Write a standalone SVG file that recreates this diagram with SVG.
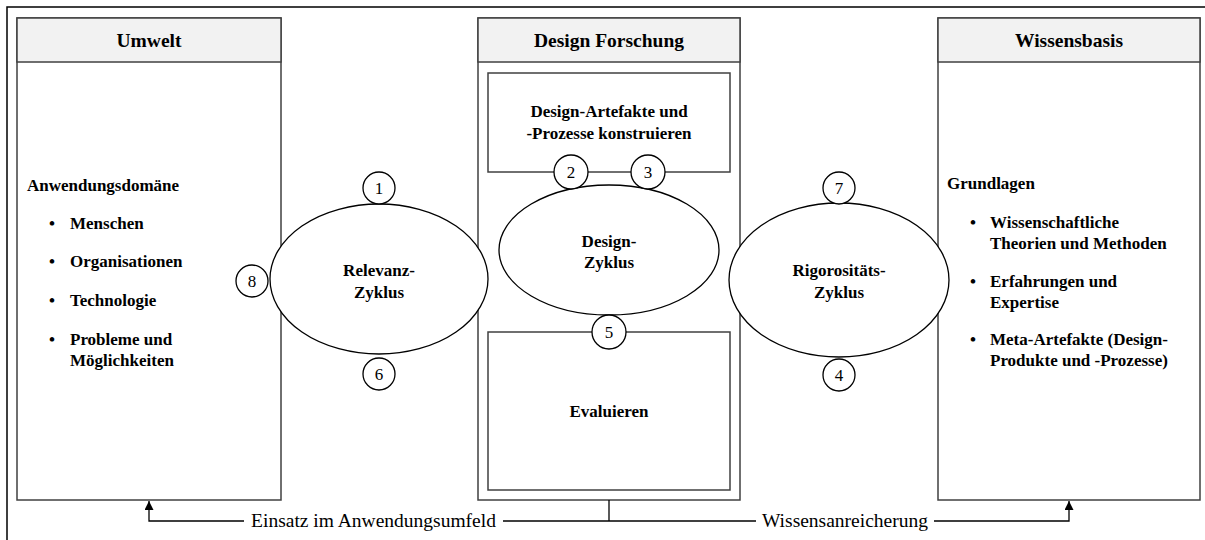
<svg xmlns="http://www.w3.org/2000/svg" width="1205" height="540" viewBox="0 0 1205 540">
<defs>
<style>
.box{fill:#fff;stroke:#404040;stroke-width:1.5}
.hdr{fill:#f2f2f2;stroke:#404040;stroke-width:1.5}
.ell{fill:#fff;stroke:#000;stroke-width:1.3}
.num{fill:#fff;stroke:#000;stroke-width:1.3}
.t{font-family:"Liberation Serif","Times New Roman",serif;fill:#000}
.h{font-size:19.5px;font-weight:bold;text-anchor:middle}
.b{font-size:17px;font-weight:bold}
.c{text-anchor:middle}
.n{font-size:17px;text-anchor:middle}
.lbl{font-size:19.5px}
.ln{fill:none;stroke:#000;stroke-width:1.3}
</style>
<marker id="arr" viewBox="0 0 10 10" refX="10" refY="5" markerWidth="11" markerHeight="9" markerUnits="userSpaceOnUse" orient="auto">
<path d="M0,0 L10,5 L0,10 Z" fill="#000"/>
</marker>
</defs>
<rect x="7" y="7" width="1200" height="545" fill="#fff" stroke="#000" stroke-width="1.5"/>

<g id="umwelt">
<rect class="box" x="17" y="18" width="264" height="482"/>
<rect class="hdr" x="17" y="18" width="264" height="44"/>
<text class="t h" x="149" y="47">Umwelt</text>
<text class="t b" x="27" y="191">Anwendungsdomäne</text>
<text class="t b" x="49" y="229">•</text><text class="t b" x="70" y="229">Menschen</text>
<text class="t b" x="49" y="267">•</text><text class="t b" x="70" y="267">Organisationen</text>
<text class="t b" x="49" y="306">•</text><text class="t b" x="70" y="306">Technologie</text>
<text class="t b" x="49" y="345">•</text><text class="t b" x="70" y="345">Probleme und</text>
<text class="t b" x="70" y="366">Möglichkeiten</text>
</g>

<g id="design">
<rect class="box" x="478" y="18" width="262" height="482"/>
<rect class="hdr" x="478" y="18" width="262" height="44"/>
<text class="t h" x="609" y="47">Design Forschung</text>
</g>

<g id="konstruieren">
<rect class="box" x="488" y="73" width="242" height="99"/>
<text class="t b c" x="609" y="117">Design-Artefakte und</text>
<text class="t b c" x="609" y="139">-Prozesse konstruieren</text>
</g>

<g id="evaluieren">
<rect class="box" x="488" y="332" width="242" height="158"/>
<text class="t b c" x="609" y="417">Evaluieren</text>
</g>

<g id="wissensbasis">
<rect class="box" x="938" y="18" width="262" height="482"/>
<rect class="hdr" x="938" y="18" width="262" height="44"/>
<text class="t h" x="1069" y="47">Wissensbasis</text>
<text class="t b" x="947" y="189">Grundlagen</text>
<text class="t b" x="970" y="228">•</text><text class="t b" x="990" y="228">Wissenschaftliche</text>
<text class="t b" x="990" y="249">Theorien und Methoden</text>
<text class="t b" x="970" y="287">•</text><text class="t b" x="990" y="287">Erfahrungen und</text>
<text class="t b" x="990" y="308">Expertise</text>
<text class="t b" x="970" y="345">•</text><text class="t b" x="990" y="345">Meta-Artefakte (Design-</text>
<text class="t b" x="990" y="366">Produkte und -Prozesse)</text>
</g>

<g id="relevanz">
<ellipse class="ell" cx="379" cy="279" rx="109" ry="75"/>
<text class="t b c" x="379" y="276">Relevanz-</text>
<text class="t b c" x="379" y="298">Zyklus</text>
</g>

<g id="designzyklus">
<ellipse class="ell" cx="609" cy="250" rx="110" ry="65"/>
<text class="t b c" x="609" y="247">Design-</text>
<text class="t b c" x="609" y="268">Zyklus</text>
</g>

<g id="rigorositaet">
<ellipse class="ell" cx="839" cy="280" rx="110" ry="77"/>
<text class="t b c" x="839" y="276">Rigorositäts-</text>
<text class="t b c" x="839" y="298">Zyklus</text>
</g>

<g id="n1"><circle class="num" cx="379" cy="188" r="16"/><text class="t n" x="379" y="194">1</text></g>
<g id="n2"><circle class="num" cx="571" cy="172" r="17"/><text class="t n" x="571" y="178">2</text></g>
<g id="n3"><circle class="num" cx="648" cy="172" r="17"/><text class="t n" x="648" y="178">3</text></g>
<g id="n4"><circle class="num" cx="839" cy="375" r="16"/><text class="t n" x="839" y="381">4</text></g>
<g id="n5"><circle class="num" cx="609" cy="332" r="17"/><text class="t n" x="609" y="338">5</text></g>
<g id="n6"><circle class="num" cx="379" cy="374" r="16"/><text class="t n" x="379" y="380">6</text></g>
<g id="n7"><circle class="num" cx="839" cy="188" r="16"/><text class="t n" x="839" y="194">7</text></g>
<g id="n8"><circle class="num" cx="252" cy="281" r="16"/><text class="t n" x="252" y="287">8</text></g>

<g id="connectors">
<line class="ln" x1="609" y1="500" x2="609" y2="521"/>
<polyline class="ln" points="244,521 149,521 149,501" marker-end="url(#arr)"/>
<line class="ln" x1="503" y1="521" x2="756" y2="521"/>
<polyline class="ln" points="934,521 1069,521 1069,501" marker-end="url(#arr)"/>
<text class="t lbl" x="373.5" y="527" text-anchor="middle">Einsatz im Anwendungsumfeld</text>
<text class="t lbl" x="845" y="527" text-anchor="middle">Wissensanreicherung</text>
</g>
</svg>
